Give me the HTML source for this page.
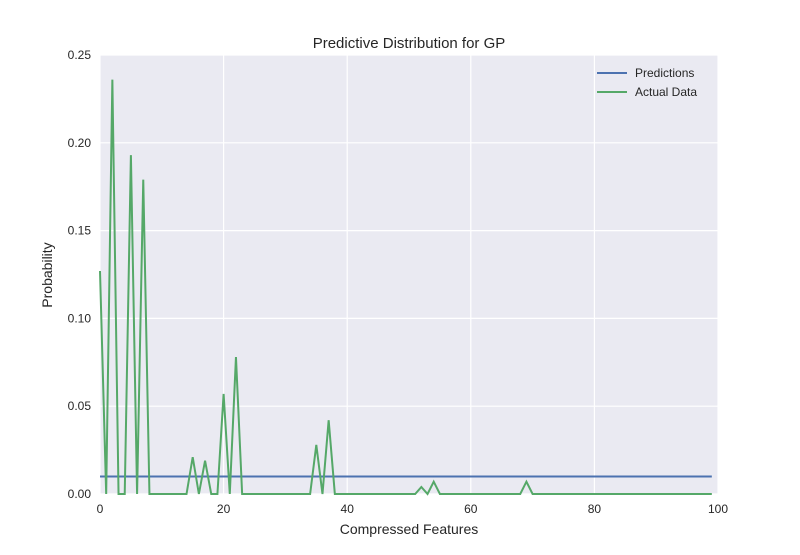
<!DOCTYPE html>
<html><head><meta charset="utf-8"><style>
body{margin:0;background:#fff;font-family:"Liberation Sans",sans-serif}
</style></head><body>
<svg id="c" width="800" height="550" xmlns="http://www.w3.org/2000/svg">
<rect x="100" y="55" width="618" height="439" fill="#eaeaf2"/>
<g id="grid"></g><g id="ticks"></g><g id="series"></g>
<text x="409" y="48" text-anchor="middle" font-size="15" fill="#262626">Predictive Distribution for GP</text>
<text x="409" y="534" text-anchor="middle" font-size="14" fill="#262626">Compressed Features</text>
<text x="52" y="275" text-anchor="middle" font-size="14" fill="#262626" transform="rotate(-90 52 275)">Probability</text>
<g>
<line x1="597" y1="73" x2="627" y2="73" stroke="#4c72b0" stroke-width="2"/>
<text x="635" y="77" font-size="12" fill="#262626">Predictions</text>
<line x1="597" y1="92" x2="627" y2="92" stroke="#55a868" stroke-width="2"/>
<text x="635" y="96" font-size="12" fill="#262626">Actual Data</text>
</g>
</svg>
<script>
const xTicks=[0,20,40,60,80,100];
const yTicks=[0,0.05,0.10,0.15,0.20,0.25];
const predictionValue=0.01;
const actualValues=[0.127,0,0.236,0,0,0.193,0,0.179,0,0,0,0,0,0,0,0.021,0,0.019,0,0,0.057,0,0.078,0,0,0,0,0,0,0,0,0,0,0,0,0.028,0,0.042,0,0,0,0,0,0,0,0,0,0,0,0,0,0,0.004,0,0.007,0,0,0,0,0,0,0,0,0,0,0,0,0,0,0.007,0,0,0,0,0,0,0,0,0,0,0,0,0,0,0,0,0,0,0,0,0,0,0,0,0,0,0,0,0,0];
const X=v=>100+v/100*618, Y=v=>494-v/0.25*439;
const ns="http://www.w3.org/2000/svg";
function mk(t,a,p){const e=document.createElementNS(ns,t);for(const k in a)e.setAttribute(k,a[k]);document.getElementById(p).appendChild(e);return e;}
xTicks.forEach(v=>{const l=mk('line',{x1:X(v),x2:X(v),y1:55,y2:494,stroke:'#fff','stroke-width':1.2},'grid');


const t=mk('text',{x:X(v),y:513,'text-anchor':'middle','font-size':12,fill:'#262626'},'ticks');t.textContent=v;

});
yTicks.forEach(v=>{const l=mk('line',{x1:100,x2:718,y1:Y(v),y2:Y(v),stroke:'#fff','stroke-width':1.2},'grid');


const t=mk('text',{x:91,y:Y(v)+4,'text-anchor':'end','font-size':12,fill:'#262626'},'ticks');t.textContent=v.toFixed(2);

});
const pl=mk('line',{x1:X(0),x2:X(actualValues.length-1),y1:Y(predictionValue),y2:Y(predictionValue),stroke:'#4c72b0','stroke-width':2},'series');


const al=mk('polyline',{points:actualValues.map((v,i)=>X(i)+','+Y(v)).join(' '),fill:'none',stroke:'#55a868','stroke-width':2},'series');


</script>
</body></html>
